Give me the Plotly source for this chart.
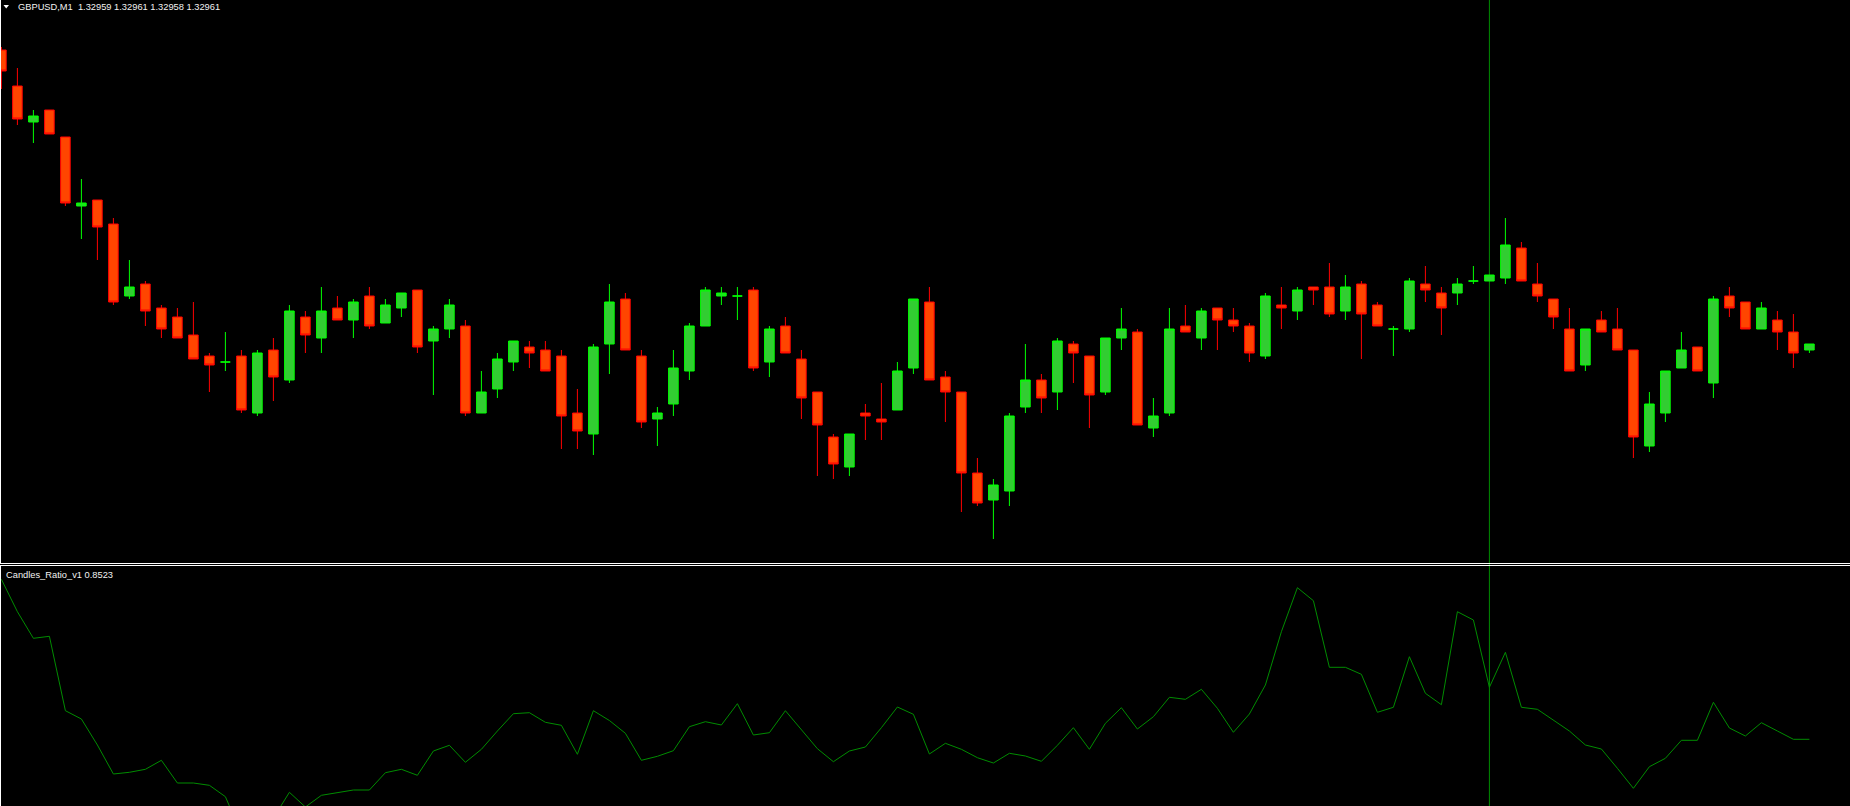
import plotly.graph_objects as go

# ---------------- data (GBPUSD M1) ----------------
symbol = "GBPUSD,M1"
indicator_name = "Candles_Ratio_v1"

open_ = [
    1.33059, 1.33047, 1.33035, 1.33039, 1.33030, 1.33007, 1.33009, 1.33001, 1.32977, 1.32981,
    1.32973, 1.32970, 1.32964, 1.32957, 1.32955, 1.32957, 1.32938, 1.32959, 1.32949, 1.32970,
    1.32963, 1.32973, 1.32969, 1.32977, 1.32968, 1.32973, 1.32979, 1.32962, 1.32966, 1.32967,
    1.32938, 1.32946, 1.32955, 1.32960, 1.32959, 1.32957, 1.32938, 1.32931, 1.32961, 1.32976,
    1.32957, 1.32936, 1.32941, 1.32952, 1.32967, 1.32977, 1.32977, 1.32979, 1.32955, 1.32967,
    1.32956, 1.32945, 1.32930, 1.32920, 1.32938, 1.32936, 1.32939, 1.32953, 1.32975, 1.32950,
    1.32945, 1.32918, 1.32909, 1.32912, 1.32940, 1.32949, 1.32945, 1.32961, 1.32957, 1.32945,
    1.32963, 1.32965, 1.32933, 1.32938, 1.32967, 1.32963, 1.32973, 1.32969, 1.32967, 1.32957,
    1.32974, 1.32972, 1.32980, 1.32980, 1.32972, 1.32981, 1.32974, 1.32966, 1.32966, 1.32981,
    1.32978, 1.32978, 1.32982, 1.32982, 1.32983, 1.32993, 1.32981, 1.32976, 1.32966, 1.32954,
    1.32969, 1.32966, 1.32959, 1.32927, 1.32938, 1.32953, 1.32960, 1.32948, 1.32977, 1.32975,
    1.32966, 1.32969, 1.32965, 1.32959,
]
high = [
    1.33060, 1.33053, 1.33039, 1.33039, 1.33030, 1.33016, 1.33009, 1.33003, 1.32989, 1.32982,
    1.32974, 1.32973, 1.32975, 1.32958, 1.32965, 1.32959, 1.32959, 1.32963, 1.32974, 1.32972,
    1.32980, 1.32977, 1.32976, 1.32980, 1.32976, 1.32978, 1.32979, 1.32967, 1.32976, 1.32969,
    1.32952, 1.32958, 1.32962, 1.32962, 1.32962, 1.32959, 1.32946, 1.32961, 1.32981, 1.32978,
    1.32959, 1.32940, 1.32959, 1.32968, 1.32980, 1.32980, 1.32980, 1.32980, 1.32967, 1.32970,
    1.32959, 1.32945, 1.32931, 1.32931, 1.32941, 1.32948, 1.32955, 1.32976, 1.32980, 1.32952,
    1.32945, 1.32923, 1.32916, 1.32938, 1.32961, 1.32951, 1.32963, 1.32962, 1.32957, 1.32963,
    1.32973, 1.32966, 1.32943, 1.32973, 1.32974, 1.32973, 1.32973, 1.32973, 1.32968, 1.32978,
    1.32980, 1.32980, 1.32980, 1.32988, 1.32984, 1.32982, 1.32975, 1.32967, 1.32983, 1.32987,
    1.32980, 1.32983, 1.32987, 1.32984, 1.33003, 1.32995, 1.32988, 1.32976, 1.32973, 1.32966,
    1.32972, 1.32973, 1.32959, 1.32945, 1.32952, 1.32965, 1.32960, 1.32977, 1.32980, 1.32975,
    1.32975, 1.32972, 1.32971, 1.32961,
]
low = [
    1.33046, 1.33034, 1.33028, 1.33031, 1.33007, 1.32996, 1.32989, 1.32974, 1.32976, 1.32967,
    1.32963, 1.32963, 1.32956, 1.32945, 1.32952, 1.32938, 1.32937, 1.32942, 1.32948, 1.32958,
    1.32958, 1.32969, 1.32963, 1.32966, 1.32968, 1.32970, 1.32958, 1.32944, 1.32963, 1.32937,
    1.32938, 1.32943, 1.32952, 1.32953, 1.32952, 1.32926, 1.32926, 1.32924, 1.32951, 1.32959,
    1.32933, 1.32927, 1.32937, 1.32949, 1.32967, 1.32974, 1.32969, 1.32952, 1.32950, 1.32958,
    1.32936, 1.32917, 1.32916, 1.32917, 1.32929, 1.32929, 1.32939, 1.32951, 1.32949, 1.32935,
    1.32905, 1.32907, 1.32896, 1.32907, 1.32938, 1.32938, 1.32939, 1.32948, 1.32933, 1.32944,
    1.32959, 1.32934, 1.32930, 1.32937, 1.32965, 1.32959, 1.32959, 1.32965, 1.32955, 1.32956,
    1.32966, 1.32969, 1.32974, 1.32970, 1.32969, 1.32956, 1.32967, 1.32957, 1.32965, 1.32975,
    1.32964, 1.32974, 1.32981, 1.32982, 1.32981, 1.32982, 1.32975, 1.32966, 1.32952, 1.32952,
    1.32965, 1.32959, 1.32923, 1.32925, 1.32935, 1.32953, 1.32952, 1.32943, 1.32970, 1.32966,
    1.32966, 1.32959, 1.32953, 1.32958,
]
close = [
    1.33052, 1.33036, 1.33037, 1.33031, 1.33008, 1.33008, 1.33000, 1.32975, 1.32980, 1.32972,
    1.32966, 1.32963, 1.32956, 1.32954, 1.32955, 1.32939, 1.32958, 1.32950, 1.32972, 1.32964,
    1.32972, 1.32969, 1.32975, 1.32967, 1.32974, 1.32978, 1.32960, 1.32966, 1.32974, 1.32938,
    1.32945, 1.32956, 1.32962, 1.32958, 1.32952, 1.32937, 1.32932, 1.32960, 1.32975, 1.32959,
    1.32935, 1.32938, 1.32953, 1.32967, 1.32979, 1.32978, 1.32977, 1.32953, 1.32966, 1.32958,
    1.32943, 1.32934, 1.32921, 1.32931, 1.32937, 1.32935, 1.32952, 1.32976, 1.32949, 1.32945,
    1.32918, 1.32908, 1.32914, 1.32937, 1.32949, 1.32943, 1.32962, 1.32958, 1.32944, 1.32963,
    1.32966, 1.32934, 1.32937, 1.32966, 1.32965, 1.32972, 1.32969, 1.32967, 1.32958, 1.32977,
    1.32973, 1.32979, 1.32979, 1.32971, 1.32980, 1.32971, 1.32967, 1.32966, 1.32982, 1.32979,
    1.32973, 1.32981, 1.32982, 1.32984, 1.32994, 1.32982, 1.32977, 1.32970, 1.32952, 1.32966,
    1.32965, 1.32959, 1.32930, 1.32941, 1.32952, 1.32959, 1.32952, 1.32976, 1.32973, 1.32966,
    1.32973, 1.32965, 1.32958, 1.32961,
]
ratio = [
    1.4923, 1.3627, 1.2563, 1.2643, 0.9667, 0.9335, 0.8295, 0.7135, 0.7203, 0.7323,
    0.7683, 0.6775, 0.6775, 0.6683, 0.6227, 0.4735, 0.4975, 0.5375, 0.6403, 0.5815,
    0.6283, 0.6403, 0.6495, 0.6495, 0.7187, 0.7323, 0.7083, 0.8055, 0.8283, 0.7603,
    0.8123, 0.8855, 0.9547, 0.9587, 0.9203, 0.9083, 0.7923, 0.9667, 0.9275, 0.8763,
    0.7683, 0.7843, 0.8067, 0.9027, 0.9227, 0.9095, 0.9947, 0.8695, 0.8787, 0.9667,
    0.8907, 0.8147, 0.7627, 0.8055, 0.8215, 0.8987, 0.9815, 0.9523, 0.7935, 0.8363,
    0.8123, 0.7787, 0.7575, 0.7963, 0.7855, 0.7643, 0.8283, 0.8987, 0.8123, 0.9163,
    0.9787, 0.8935, 0.9427, 1.0203, 1.0123, 1.0523, 0.9763, 0.8803, 0.9535, 1.0695,
    1.2827, 1.4587, 1.4067, 1.1403, 1.1403, 1.1123, 0.9603, 0.9803, 1.1827, 1.0363,
    0.9907, 1.3627, 1.3295, 1.0603, 1.2003, 0.9803, 0.9723, 0.9295, 0.8855, 0.8295,
    0.8135, 0.7363, 0.6563, 0.7427, 0.7763, 0.8483, 0.8483, 1.0003, 0.8975, 0.8655,
    0.9187, 0.8855, 0.8523, 0.8523,
]
vline_bar = 93  # bar marked by the vertical line

# ---------------- figure ----------------
W, H = 1850, 806
bars = list(range(len(open_)))
up = [i for i in bars if close[i] >= open_[i]]
dn = [i for i in bars if close[i] < open_[i]]

BULL_FILL, BULL_LINE = "#32CD32", "#00FF00"
BEAR_FILL, BEAR_LINE = "#FF4500", "#FF0000"
IND_COLOR = "#008C00"


def candles(idx, fill, line):
    style = dict(fillcolor=fill, line=dict(color=line, width=1))
    return go.Candlestick(
        x=idx,
        open=[open_[i] for i in idx],
        high=[high[i] for i in idx],
        low=[low[i] for i in idx],
        close=[close[i] for i in idx],
        increasing=style,
        decreasing=style,
        whiskerwidth=0,
        hoverinfo="skip",
        showlegend=False,
        xaxis="x",
        yaxis="y",
    )


fig = go.Figure()
fig.add_trace(candles(up, BULL_FILL, BULL_LINE))
fig.add_trace(candles(dn, BEAR_FILL, BEAR_LINE))
fig.add_trace(go.Scatter(
    x=bars, y=ratio, mode="lines",
    line=dict(color=IND_COLOR, width=1),
    hoverinfo="skip", showlegend=False,
    xaxis="x2", yaxis="y2",
))

main_bottom_px = 563.5
sub_top_px = 565.5
px_per_bar = 16.0
x0_px = 1.4
x_lo = -x0_px / px_per_bar
x_hi = x_lo + W / px_per_bar

fig.update_layout(
    width=W, height=H, autosize=False,
    margin=dict(l=0, r=0, t=0, b=0, pad=0),
    paper_bgcolor="#000000", plot_bgcolor="#000000",
    boxgap=0.40, boxgroupgap=0,
    showlegend=False,
    xaxis=dict(domain=[0, 1], range=[x_lo, x_hi], visible=False,
               rangeslider=dict(visible=False), anchor="y", fixedrange=True),
    yaxis=dict(domain=[1 - 563 / H, 1], range=[1.32888, 1.3307567],
               visible=False, anchor="x", fixedrange=True),
    xaxis2=dict(domain=[0, 1], range=[x_lo, x_hi], visible=False,
                anchor="y2", fixedrange=True),
    yaxis2=dict(domain=[0, (H - 566) / H], range=[0.5855, 1.5455],
                visible=False, anchor="x2", fixedrange=True),
)

shapes = [
    # vertical marker line through both panes
    dict(type="line", xref="x", yref="paper", x0=vline_bar, x1=vline_bar,
         y0=0, y1=1, line=dict(color=IND_COLOR, width=1), layer="below"),
    # pane separators
    dict(type="line", xref="paper", yref="paper", x0=0, x1=1,
         y0=1 - main_bottom_px / H, y1=1 - main_bottom_px / H,
         line=dict(color="#FFFFFF", width=1), layer="above"),
    dict(type="line", xref="paper", yref="paper", x0=0, x1=1,
         y0=1 - sub_top_px / H, y1=1 - sub_top_px / H,
         line=dict(color="#FFFFFF", width=1), layer="above"),
    # left frame edges
    dict(type="line", xref="paper", yref="paper", x0=0.5 / W, x1=0.5 / W,
         y0=1 - main_bottom_px / H, y1=1,
         line=dict(color="#FFFFFF", width=1), layer="above"),
    dict(type="line", xref="paper", yref="paper", x0=0.5 / W, x1=0.5 / W,
         y0=0, y1=1 - sub_top_px / H,
         line=dict(color="#FFFFFF", width=1), layer="above"),
    # small dropdown triangle before the symbol caption
    dict(type="path", xref="paper", yref="paper",
         path="M {:.6f},{:.6f} L {:.6f},{:.6f} L {:.6f},{:.6f} Z".format(
             3.5 / W, 1 - 5.0 / H, 9.0 / W, 1 - 5.0 / H, 6.25 / W, 1 - 8.5 / H),
         fillcolor="#FFFFFF", line=dict(width=0), layer="above"),
]
fig.update_layout(shapes=shapes)

FONT = dict(family="Tahoma, 'Liberation Sans', Arial, sans-serif", size=9.3, color="#F2F2F2")
title_text = "{}\u00a0\u00a0{:.5f} {:.5f} {:.5f} {:.5f}".format(
    symbol, open_[-1], high[-1], low[-1], close[-1])
ind_text = "{} {:.4f}".format(indicator_name, ratio[-1])

fig.add_annotation(text=title_text, xref="paper", yref="paper",
                   x=15.5 / W, y=1 - 7.5 / H, xanchor="left", yanchor="middle",
                   showarrow=False, font=FONT)
fig.add_annotation(text=ind_text, xref="paper", yref="paper",
                   x=3.5 / W, y=1 - 574.5 / H, xanchor="left", yanchor="middle",
                   showarrow=False, font=FONT)

page_css = (
    "document.documentElement.style.margin='0';"
    "document.documentElement.style.background='#000';"
    "document.body.style.margin='0';"
    "document.body.style.padding='0';"
    "document.body.style.overflow='hidden';"
    "document.body.style.background='#000';"
)
fig.write_html("out.html", config={"displayModeBar": False, "staticPlot": True},
               post_script=page_css)
